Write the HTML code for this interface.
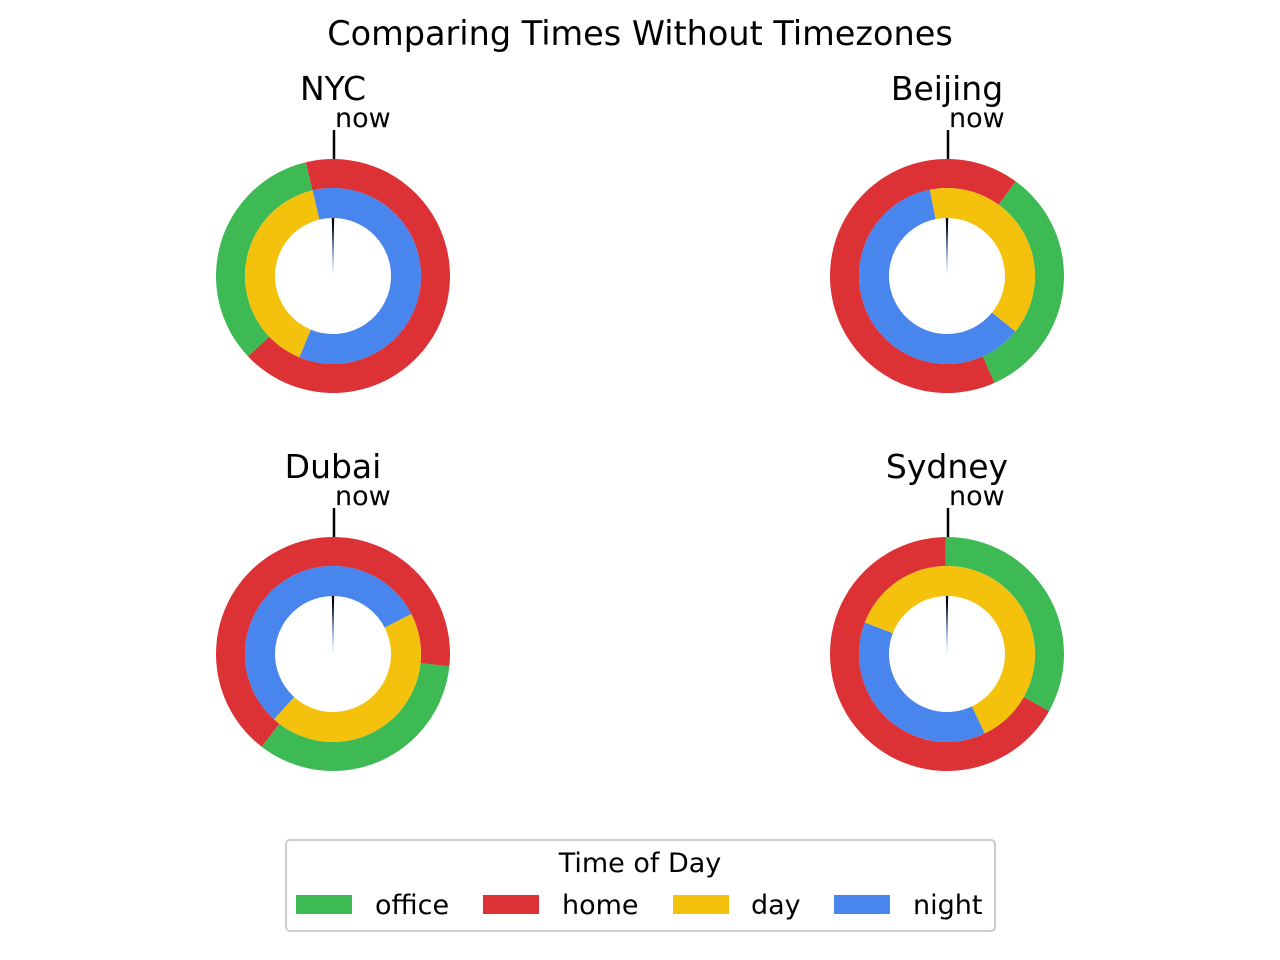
<!DOCTYPE html>
<html><head><meta charset="utf-8"><style>
body{margin:0;background:#fff;}
svg{display:block;font-family:"DejaVu Sans","Liberation Sans",sans-serif;}
</style></head><body>
<svg id="c" width="1280" height="960" viewBox="0 0 1280 960">
<defs><linearGradient id="ng" x1="0" y1="0" x2="0" y2="1"><stop offset="0" stop-color="#000"/><stop offset="1" stop-color="#4885ed"/></linearGradient></defs>
<text x="640" y="45" font-size="33.5" text-anchor="middle">Comparing Times Without Timezones</text>
<g>
<rect x="286" y="840" width="709" height="91" rx="4" fill="#fff" stroke="#ccc" stroke-width="2"/>
<text x="640" y="872" font-size="27" text-anchor="middle">Time of Day</text>
<g><rect x="296" y="895" width="56" height="19" fill="#3dba54"/><text x="375" y="914" font-size="27">office</text></g>
<g><rect x="483" y="895" width="56" height="19" fill="#dc3135"/><text x="562" y="914" font-size="27">home</text></g>
<g><rect x="673" y="895" width="56" height="19" fill="#f4c20d"/><text x="751" y="914" font-size="27">day</text></g>
<g><rect x="834" y="895" width="56" height="19" fill="#4885ed"/><text x="913" y="914" font-size="27">night</text></g>
</g>
</svg>
<script>
const cities=["NYC","Beijing","Dubai","Sydney"];
const officeStart=[15.1,2.4,6.4,23.95];
const officeEnd=[23.1,10.4,14.5,7.95];
const dayStart=[13.5,23.25,4.2,19.4];
const dayEnd=[23.1,8.6,14.8,10.3];
const cx=[333,947,333,947], cy=[276,276,654,654];
const R1=117,R2=88,R3=58;
const NS="http://www.w3.org/2000/svg";
const svg=document.getElementById("c");
function pt(x,y,r,h){const a=h/24*2*Math.PI;return [x+r*Math.sin(a),y-r*Math.cos(a)];}
function arc(x,y,ro,ri,h0,h1){
 let span=((h1-h0)%24+24)%24; if(span===0)span=24;
 const he=h0+span, lg=span>12?1:0;
 const a=pt(x,y,ro,h0),b=pt(x,y,ro,he),c=pt(x,y,ri,he),d=pt(x,y,ri,h0);
 return `M${a[0]},${a[1]}A${ro},${ro} 0 ${lg} 1 ${b[0]},${b[1]}L${c[0]},${c[1]}A${ri},${ri} 0 ${lg} 0 ${d[0]},${d[1]}Z`;
}
function add(tag,attrs,parent){const e=document.createElementNS(NS,tag);for(const k in attrs)e.setAttribute(k,attrs[k]);(parent||svg).appendChild(e);return e;}
cities.forEach((name,i)=>{
 const x=cx[i],y=cy[i];
 const g=add("g",{});
 
 
 const p1=add("path",{d:arc(x,y,R1,R2,officeEnd[i],officeStart[i]),fill:"#dc3135"},g);
 
 
 const p2=add("path",{d:arc(x,y,R1,R2,officeStart[i],officeEnd[i]),fill:"#3dba54"},g);
 
 
 const p3=add("path",{d:arc(x,y,R2,R3,dayEnd[i],dayStart[i]),fill:"#4885ed"},g);
 
 
 const p4=add("path",{d:arc(x,y,R2,R3,dayStart[i],dayEnd[i]),fill:"#f4c20d"},g);
 
 
 const n=add("polygon",{points:`${x-1.2},${y-R3} ${x+1.2},${y-R3} ${x},${y}`,fill:"url(#ng)"},g);
 
 
 const l=add("line",{x1:x+1,y1:y-146,x2:x+1,y2:y-117,stroke:"#000","stroke-width":2.5},g);
 
 
 const t=add("text",{x:x+2,y:y-149,"font-size":27},g);t.textContent="now";
 
 
 const tt=add("text",{x:x,y:y-176,"font-size":33,"text-anchor":"middle"},g);tt.textContent=name;
 
 
});
</script>
</body></html>
